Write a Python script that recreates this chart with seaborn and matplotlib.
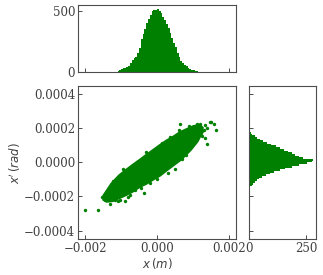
import numpy as np
import pandas as pd
import matplotlib
matplotlib.use("Agg")
import matplotlib.pyplot as plt
from matplotlib.ticker import MultipleLocator
import seaborn as sns

# top histogram of x (bin edges start, width, counts)
x_bin_start = -0.00125
x_bin_width = 0.00005
x_counts = [1, 2, 4, 7, 15, 23, 30, 35, 40, 51,
            73, 98, 112, 124, 160, 200, 268, 312, 356, 400,
            438, 467, 500, 512, 510, 516, 502, 484, 455, 426,
            396, 365, 321, 278, 242, 204, 160, 124, 93, 73,
            59, 48, 37, 28, 20, 16, 12, 8, 4, 2]

# right histogram of x'
xp_bin_start = -0.00018
xp_bin_width = 0.00001
xp_counts = [0, 1, 3, 6, 12, 17, 26, 35, 46, 59,
             75, 92, 111, 135, 160, 189, 221, 255, 275, 282,
             235, 219, 204, 188, 172, 155, 136, 117, 98, 79,
             60, 48, 37, 26, 15, 7, 2]

# dense core of the phase-space cloud (outline)
core_x = [-0.00150, -0.00128, -0.00106, -0.00087, -0.00068, -0.00049, -0.00030,
          -0.00011, 0.00008, 0.00026, 0.00045, 0.00064, 0.00083, 0.00101,
          0.00119, 0.00128, 0.00125, 0.00113, 0.00094, 0.00075, 0.00065, 0.00046,
          0.00027, 0.00009, -0.00010, -0.00029, -0.00048, -0.00067, -0.00085,
          -0.00104, -0.00123, -0.00140, -0.00150]
core_xp = [-0.000195, -0.000125, -0.000075, -0.000043, -0.000013, 0.000016, 0.000046,
           0.000075, 0.000104, 0.000130, 0.000153, 0.000180, 0.000198, 0.000215,
           0.000222, 0.000205, 0.000170, 0.000122, 0.000072, 0.000032, 0.000012, -0.000018,
           -0.000048, -0.000078, -0.000101, -0.000126, -0.000145, -0.000172, -0.000192,
           -0.000210, -0.000228, -0.000232, -0.000220]

# scattered particles outside the core
pts_x = [-0.00200, -0.00165, -0.00154, -0.00148, -0.00139, -0.00145, -0.00130,
         -0.00118, -0.00036, -0.00057, 0.00065, 0.00110,
         0.00121, 0.00134, 0.00148, 0.00140, 0.00163, 0.00122, 0.00124,
         0.00100, 0.00149, 0.00159, 0.00135, 0.00138, 0.00126, 0.00130,
         0.00096, 0.00107, -0.00151, -0.00137, -0.00123, -0.00114, -0.00090,
         -0.00104, -0.00110, -0.00075, 0.00090, 0.00060, -0.00020, 0.00035,
         -0.00060, 0.00015, 0.00080, -0.00030, 0.00050, -0.00095, -0.00080,
         0.00030, -0.00045, 0.00070, 0.00000]
pts_xp = [-0.000282, -0.000282, -0.000204, -0.000212, -0.000212, -0.000222, -0.000243,
          -0.000218, -0.000182, 0.000000, 0.000224, 0.000224,
          0.000228, 0.000221, 0.000237, 0.000204, 0.000190, 0.000175, 0.000155,
          0.000175, 0.000240, 0.000228, 0.000145, 0.000106, 0.000184, 0.000194,
          0.000204, 0.000214, -0.000204, -0.000194, -0.000110, -0.000100, -0.000227,
          -0.000218, -0.000228, -0.000190, 0.000212, 0.000192, -0.000118, 0.000150,
          -0.000160, 0.000116, 0.000045, 0.000060, -0.000038, -0.000040, -0.000205,
          -0.000060, -0.000150, 0.000020, -0.000100]

green = "#008000"
edge = "0.3"

sns.set_style("ticks", {"xtick.direction": "in", "ytick.direction": "in",
                        "axes.edgecolor": edge})
plt.rcParams["font.family"] = ["DejaVu Serif"]
plt.rcParams["mathtext.fontset"] = "dejavusans"

fig = plt.figure(figsize=(3.23, 2.75), dpi=100)
ax = fig.add_axes([0.2415, 0.1309, 0.4892, 0.5564])
ax_top = fig.add_axes([0.2415, 0.738, 0.4892, 0.2436], sharex=ax)
ax_right = fig.add_axes([0.7709, 0.1309, 0.2074, 0.5564], sharey=ax)

# scatter
ax.fill(core_x, core_xp, color=green, lw=1.2, ec=green)
pts = pd.DataFrame({"x": pts_x, "xp": pts_xp})
sns.scatterplot(data=pts, x="x", y="xp", ax=ax, color=green, s=6, linewidth=0)

# histograms
hx = pd.DataFrame({
    "x": x_bin_start + x_bin_width * (np.arange(len(x_counts)) + 0.5),
    "n": x_counts})
xedges = list(x_bin_start + x_bin_width * np.arange(len(x_counts) + 1))
sns.histplot(data=hx, x="x", weights="n", bins=xedges, ax=ax_top, color=green,
             alpha=1, edgecolor="none")
hy = pd.DataFrame({
    "xp": xp_bin_start + xp_bin_width * (np.arange(len(xp_counts)) + 0.5),
    "n": xp_counts})
yedges = list(xp_bin_start + xp_bin_width * np.arange(len(xp_counts) + 1))
sns.histplot(data=hy, y="xp", weights="n", bins=yedges, ax=ax_right, color=green,
             alpha=1, edgecolor="none")

ax.set_xlim(-0.0022, 0.0022)
ax.set_ylim(-0.00045, 0.00045)
ax.xaxis.set_major_locator(MultipleLocator(0.002))
ax.yaxis.set_major_locator(MultipleLocator(0.0002))
ax_top.set_ylim(0, 550)
ax_top.yaxis.set_major_locator(MultipleLocator(500))
ax_right.set_xlim(0, 294)
ax_right.xaxis.set_major_locator(MultipleLocator(250))

ax.set_xlabel(r"$x\,(m)$", fontsize=8.5, color="0.25", labelpad=1)
ax.set_ylabel(r"$x'\,(rad)$", fontsize=8.5, color="0.25", labelpad=1)
for a in (ax_top, ax_right):
    a.set_xlabel("")
    a.set_ylabel("")
plt.setp(ax_top.get_xticklabels(), visible=False)
plt.setp(ax_right.get_yticklabels(), visible=False)

for a in (ax, ax_top, ax_right):
    a.tick_params(labelsize=8.5, length=3, width=0.7, color=edge, labelcolor="0.25", pad=2)
    for s in a.spines.values():
        s.set_visible(True)
        s.set_linewidth(0.8)
        s.set_color(edge)

fig.savefig("out.png", dpi=100)
